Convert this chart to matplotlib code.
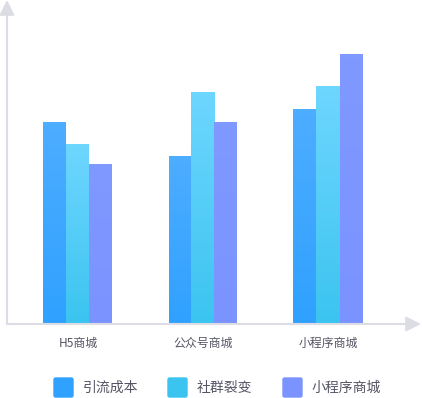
import matplotlib
matplotlib.use('Agg')
from matplotlib import pyplot as plt
from matplotlib.patches import FancyBboxPatch
import numpy as np

plt.rcParams['font.family'] = ['Noto Sans CJK SC', 'DejaVu Sans']

categories = ['H5商城', '公众号商城', '小程序商城']
series_names = ['引流成本', '社群裂变', '小程序商城']
yinliu = [202, 168, 215]
shequn = [180, 232, 238]
xiaochengxu = [160, 202, 270]

# top / bottom colours of each gradient
colors = [('#4dadff', '#30a1ff'), ('#6dd6ff', '#3cc4f0'), ('#8099ff', '#7a93ff')]

fig = plt.figure(figsize=(4.22, 3.98), dpi=100)
ax = fig.add_axes([7/422, 74/398, 414/422, 324/398])
ax.axis('off')

x = np.arange(len(categories))
w = 0.184
grad = np.linspace(0, 1, 50).reshape(-1, 1)
for i, vals in enumerate([yinliu, shequn, xiaochengxu]):
    bars = ax.bar(x + (i - 1) * w, vals, w, color='none', edgecolor='none')
    cmap = matplotlib.colors.LinearSegmentedColormap.from_list('g%d' % i, [colors[i][0], colors[i][1]])
    for b in bars:
        x0, y0 = b.get_x(), b.get_y()
        ax.imshow(grad, cmap=cmap, aspect='auto', origin='upper',
                  extent=[x0, x0 + b.get_width(), y0, y0 + b.get_height()], zorder=2)

ax.set_xlim(-0.568, 2.744)
ax.set_ylim(0, 324)

# axes with arrow heads
axis_col = '#dcdce4'
ax.annotate('', xy=(0, 1), xytext=(0, 0), xycoords='axes fraction',
            arrowprops=dict(arrowstyle='-|>,head_length=0.9,head_width=0.45', color=axis_col, lw=1.5,
                            shrinkA=0, shrinkB=0),
            annotation_clip=False)
ax.annotate('', xy=(1, 0), xytext=(0, 0), xycoords='axes fraction',
            arrowprops=dict(arrowstyle='-|>,head_length=0.9,head_width=0.45', color=axis_col, lw=1.5,
                            shrinkA=0, shrinkB=0),
            annotation_clip=False)

for xi, c in zip(x, categories):
    ax.text(xi, -19.5, c, ha='center', va='center', fontsize=8.6, color='#555566')

# legend
leg_x = [54, 168, 283]
for i, name in enumerate(series_names):
    fig.patches.append(FancyBboxPatch((leg_x[i] / 422, 1 / 398), 19 / 422, 19 / 398,
                                      boxstyle='round,pad=0,rounding_size=0.004',
                                      transform=fig.transFigure, color=colors[i][1], figure=fig))
    fig.text((leg_x[i] + 29) / 422, 10 / 398, name, ha='left', va='center',
             fontsize=10, color='#555566')

fig.savefig('out.png', dpi=100)
